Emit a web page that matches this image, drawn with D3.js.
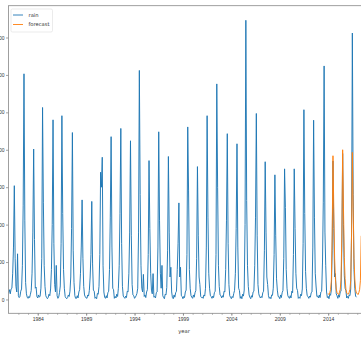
<!DOCTYPE html>
<html>
<head>
<meta charset="utf-8">
<script src="https://cdn.jsdelivr.net/npm/d3@7/dist/d3.min.js"></script>
<style>
  html, body { margin: 0; padding: 0; background: #fff; overflow: hidden; }
  svg { display: block; font-family: "DejaVu Sans", sans-serif; }
</style>
</head>
<body>
<div id="chart"></div>
<script>
// monthly rainfall, Jan 1981 .. Dec 2016 (one row per year)
const rainStart = [1981, 0];
const rain = [
  18, 26, 15, 28, 30, 70, 140, 304, 110, 35, 20, 122,   // 1981
  10, 5, 8, 22, 28, 90, 250, 603, 210, 45, 15, 6,       // 1982
  3, 8, 5, 14, 24, 70, 180, 402, 160, 30, 33, 8,        // 1983
  4, 12, 6, 9, 30, 110, 513, 260, 90, 35, 10, 5,        // 1984
  2, 6, 14, 10, 28, 80, 200, 480, 150, 40, 20, 91,      // 1985
  10, 3, 6, 18, 36, 150, 491, 230, 80, 30, 8, 4,        // 1986
  2, 5, 12, 8, 22, 60, 190, 446, 130, 45, 10, 3,        // 1987
  3, 10, 4, 20, 26, 70, 140, 266, 110, 35, 12, 7,       // 1988
  4, 3, 12, 9, 24, 60, 120, 262, 95, 25, 22, 3,         // 1989
  6, 2, 16, 14, 35, 120, 340, 300, 380, 90, 20, 6,      // 1990
  3, 10, 4, 18, 22, 80, 220, 435, 140, 30, 26, 3,       // 1991
  8, 4, 14, 8, 30, 90, 230, 457, 150, 35, 9, 6,         // 1992
  3, 9, 5, 22, 20, 70, 180, 424, 170, 40, 12, 10,       // 1993
  3, 6, 10, 16, 30, 180, 612, 280, 90, 30, 20, 67,      // 1994
  8, 12, 5, 20, 26, 120, 371, 190, 70, 25, 15, 69,      // 1995
  6, 8, 4, 18, 20, 140, 448, 210, 70, 30, 91, 10,       // 1996
  5, 2, 14, 12, 32, 130, 382, 180, 60, 86, 20, 5,       // 1997
  2, 12, 6, 18, 22, 80, 150, 258, 60, 86, 10, 8,        // 1998
  2, 8, 5, 20, 25, 120, 461, 290, 80, 30, 10, 6,        // 1999
  3, 12, 6, 18, 24, 110, 355, 170, 60, 40, 8, 5,        // 2000
  6, 3, 12, 9, 30, 140, 491, 220, 70, 30, 10, 8,        // 2001
  3, 9, 5, 18, 22, 120, 576, 300, 90, 35, 12, 10,       // 2002
  4, 10, 6, 22, 20, 80, 210, 443, 150, 40, 10, 6,       // 2003
  2, 8, 5, 16, 24, 70, 190, 416, 140, 30, 24, 3,        // 2004
  8, 2, 14, 9, 25, 200, 746, 264, 90, 35, 12, 6,        // 2005
  2, 10, 6, 20, 22, 90, 220, 497, 170, 40, 15, 8,       // 2006
  4, 8, 5, 18, 22, 130, 368, 180, 60, 40, 10, 3,        // 2007
  6, 2, 12, 11, 30, 120, 333, 170, 55, 25, 8, 7,        // 2008
  2, 12, 5, 18, 24, 110, 349, 246, 80, 30, 10, 6,       // 2009
  3, 10, 4, 22, 18, 120, 349, 190, 70, 30, 24, 3,       // 2010
  6, 3, 14, 10, 28, 150, 507, 230, 75, 30, 10, 8,       // 2011
  3, 9, 6, 18, 20, 140, 479, 220, 70, 36, 8, 9,         // 2012
  4, 12, 5, 20, 22, 100, 260, 624, 180, 90, 20, 5,      // 2013
  8, 2, 14, 11, 25, 130, 370, 190, 60, 69, 15, 10,      // 2014
  3, 12, 6, 20, 22, 140, 390, 200, 65, 30, 24, 4,       // 2015
  8, 3, 12, 10, 28, 180, 712, 280, 80, 30, 9, 6         // 2016
];

// forecast, Jan 2014 .. Jun 2017
const forecastStart = [2014, 0];
const forecast = [
  16, 13, 18, 26, 50, 170, 384, 240, 110, 55, 28, 18,   // 2014
  15, 13, 19, 27, 52, 175, 400, 245, 112, 56, 27, 17,   // 2015
  15, 14, 19, 27, 51, 172, 393, 243, 110, 55, 27, 17,   // 2016
  16, 13, 18, 26, 50, 170                               // 2017
];

const yTicks = [0, 100, 200, 300, 400, 500, 600, 700];
const xTickLabels = ['1984', '1989', '1994', '1999', '2004', '2009', '2014'];
const seriesNames = ['rain', 'forecast'];
const colors = ['#1f77b4', '#ff7f0e'];

const W = 361, H = 337;
const plot = { left: 8.5, top: 5.7, right: 366, bottom: 313.3 };

const svg = d3.select('#chart').append('svg')
  .attr('width', W)
  .attr('height', H);

// scales
const x = d3.scaleTime()
  .domain([new Date(1981, 0, 1), new Date(2017, 6, 1)])
  .range([8.7, 8.7 + 36.5 * 9.68]);
const y = d3.scaleLinear()
  .domain([-37, 785])
  .range([plot.bottom, plot.top]);

const toPoints = (vals, start) => vals.map((v, i) => ({ date: new Date(start[0], start[1] + i, 1), v: v }));

svg.append('clipPath').attr('id', 'clip')
  .append('rect')
  .attr('x', plot.left).attr('y', plot.top)
  .attr('width', plot.right - plot.left).attr('height', plot.bottom - plot.top);

const line = d3.line()
  .x(d => x(d.date))
  .y(d => y(d.v));

const lines = svg.append('g').attr('clip-path', 'url(#clip)');
[toPoints(rain, rainStart), toPoints(forecast, forecastStart)].forEach((pts, i) => {
  lines.append('path')
    .datum(pts)
    .attr('fill', 'none')
    .attr('stroke', colors[i])
    .attr('stroke-width', 0.95)
    .attr('stroke-linejoin', 'round')
    .attr('d', line);
});

// x axis: major ticks every 5 years, minor every year
const majorDates = xTickLabels.map(s => new Date(+s, 0, 1));
const xAxis = svg.append('g')
  .attr('transform', `translate(0, ${plot.bottom})`)
  .call(d3.axisBottom(x)
    .tickValues(majorDates)
    .tickFormat(d3.timeFormat('%Y'))
    .tickSizeOuter(0)
    .tickSize(2.5)
    .tickPadding(2));
xAxis.select('.domain').remove();
xAxis.selectAll('text').attr('font-size', 5).attr('fill', '#333');
xAxis.selectAll('line').attr('stroke', '#666').attr('stroke-width', 0.6);

const minor = svg.append('g')
  .attr('transform', `translate(0, ${plot.bottom})`)
  .call(d3.axisBottom(x)
    .tickValues(d3.timeYear.range(new Date(1982, 0, 1), new Date(2018, 0, 1)))
    .tickFormat('')
    .tickSizeOuter(0)
    .tickSize(1.5));
minor.select('.domain').remove();
minor.selectAll('line').attr('stroke', '#666').attr('stroke-width', 0.5);

// y axis (labels run off the left edge, as in the cropped original)
const yAxis = svg.append('g')
  .attr('transform', `translate(${plot.left}, 0)`)
  .call(d3.axisLeft(y)
    .tickValues(yTicks)
    .tickSizeOuter(0)
    .tickSize(2.5)
    .tickPadding(1.5));
yAxis.select('.domain').remove();
yAxis.selectAll('text').attr('font-size', 5).attr('fill', '#333');
yAxis.selectAll('line').attr('stroke', '#666').attr('stroke-width', 0.6);

// frame
svg.append('rect')
  .attr('x', plot.left).attr('y', plot.top)
  .attr('width', plot.right - plot.left).attr('height', plot.bottom - plot.top)
  .attr('fill', 'none')
  .attr('stroke', '#888')
  .attr('stroke-width', 0.8);

// axis label
svg.append('text')
  .attr('x', 184).attr('y', 333)
  .attr('text-anchor', 'middle')
  .attr('font-size', 5.2)
  .attr('fill', '#333')
  .text('year');

// legend
const legend = svg.append('g').attr('transform', 'translate(11, 9)');
legend.append('rect')
  .attr('width', 41.5).attr('height', 23)
  .attr('rx', 1.5)
  .attr('fill', '#fff')
  .attr('fill-opacity', 0.8)
  .attr('stroke', '#ddd')
  .attr('stroke-width', 0.6);
seriesNames.forEach((name, i) => {
  const g = legend.append('g').attr('transform', `translate(0, ${6 + i * 9.5})`);
  g.append('line')
    .attr('x1', 2).attr('x2', 12)
    .attr('stroke', colors[i]).attr('stroke-width', 0.9);
  g.append('text')
    .attr('x', 17.5).attr('y', 1.8)
    .attr('font-size', 5.2)
    .attr('fill', '#333')
    .text(name);
});
</script>
</body>
</html>
